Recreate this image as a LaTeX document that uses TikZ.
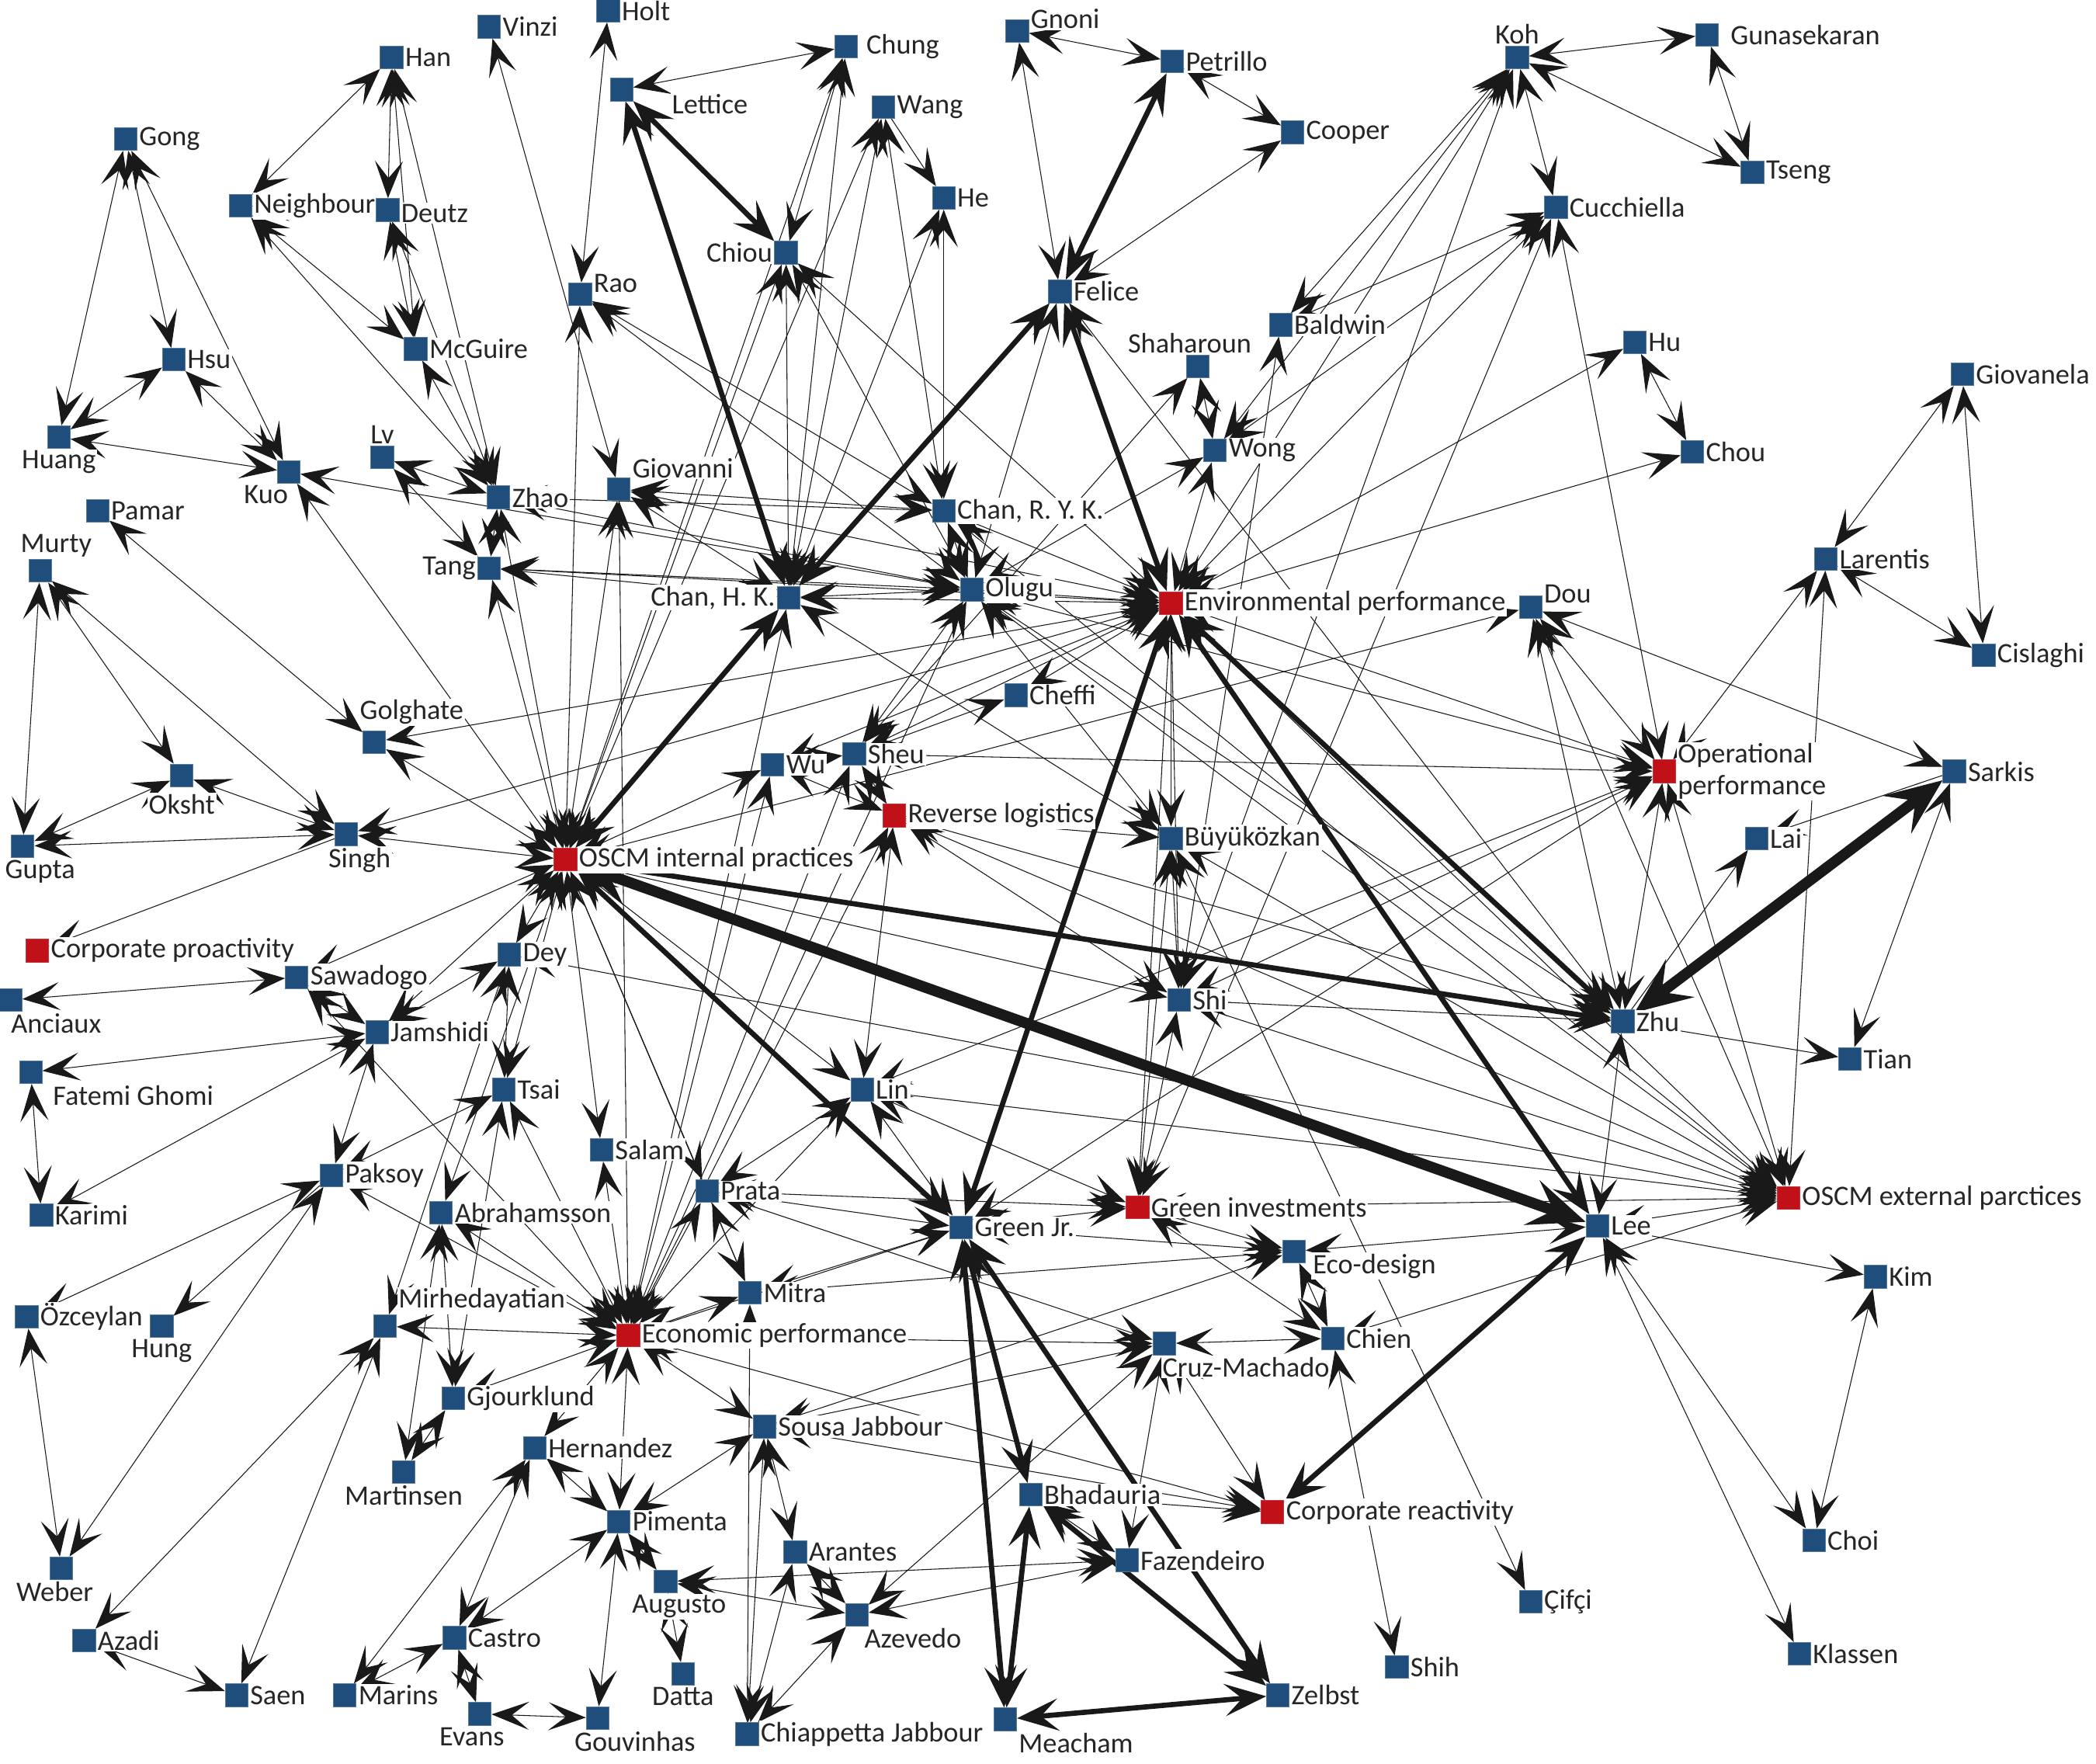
\documentclass[tikz,border=0pt]{standalone}
\usepackage{fontspec}
\setmainfont{Carlito}
\usetikzlibrary{arrows.meta,backgrounds}
\definecolor{authblue}{RGB}{31,78,125}
\definecolor{topicred}{RGB}{192,16,24}

\begin{document}
\begin{tikzpicture}[x=0.02cm, y=-0.02cm, font=\fontsize{12}{13.5}\selectfont,
  >={Stealth[length=0.56cm,width=0.42cm,inset=0.26cm]},
  au/.style={fill=authblue, draw=authblue!75, line width=0.3pt, minimum size=0.34cm, inner sep=0pt},
  topic/.style={au, fill=topicred, draw=topicred!85},
  lbl/.style={fill=white, inner sep=0.6pt, text=black!85},
  ln/.style={line width=0.35pt, draw=black!90},
  bi/.style={ln, <->},
  ed/.style={ln, ->},
  thk/.style={line width=2.2pt, draw=black!90, {Stealth[length=0.62cm,width=0.48cm,inset=0.26cm]}-{Stealth[length=0.62cm,width=0.48cm,inset=0.26cm]}},
  xthk/.style={line width=4.6pt, draw=black!90, {Stealth[length=0.85cm,width=0.7cm,inset=0.34cm]}-{Stealth[length=0.85cm,width=0.7cm,inset=0.34cm]}}]
\useasboundingbox (0,0) rectangle (1568,1319);
% top row
\node[au, label={[lbl]right:Holt}] (holt) at (455,8) {};
\node[au, label={[lbl]right:Vinzi}] (vinzi) at (366,20) {};
\node[au, label={[lbl]right:Han}] (han) at (293,43) {};
\node[au, label={[lbl,yshift=0.18cm]right:Gnoni}] (gnoni) at (761,23) {};
\node[au, label={[lbl]right:Petrillo}] (petrillo) at (877,46) {};
\node[au, label={[lbl]above:Koh}] (koh) at (1135,43) {};
\node[au, label={[lbl,xshift=0.15cm]right:Gunasekaran}] (gunas) at (1277,26) {};
\node[au, label={[lbl,xshift=0.1cm]right:Chung}] (chung) at (633,35) {};
\node[au, label={[lbl,xshift=0.55cm,yshift=-0.22cm]right:Lettice}] (lettice) at (465,67) {};
\node[au, label={[lbl]right:Wang}] (wang) at (661,80) {};
\node[au, label={[lbl]right:Gong}] (gong) at (94,104) {};
\node[au, label={[lbl]right:Neighbour}] (neighbour) at (180,154) {};
\node[au, label={[lbl,yshift=-0.05cm]right:Deutz}] (deutz) at (290,157) {};
\node[au, label={[lbl]right:He}] (he) at (706,148) {};
\node[au, label={[lbl]right:Cooper}] (cooper) at (967,99) {};
\node[au, label={[lbl]right:Tseng}] (tseng) at (1311,129) {};
\node[au, label={[lbl]right:Cucchiella}] (cucchiella) at (1164,155) {};
\node[au, label={[lbl]left:Chiou}] (chiou) at (588,189) {};
\node[au, label={[lbl]right:Felice}] (felice) at (793,218) {};
\node[au, label={[lbl,yshift=0.16cm]right:Rao}] (rao) at (434,220) {};
\node[au, label={[lbl]right:Baldwin}] (baldwin) at (958,243) {};
\node[au, label={[lbl]right:Hu}] (hu) at (1223,256) {};
\node[au, label={[lbl,xshift=-0.12cm]above:Shaharoun}] (shaharoun) at (896,274) {};
\node[au, label={[lbl]right:McGuire}] (mcguire) at (311,261) {};
\node[au, label={[lbl]right:Hsu}] (hsu) at (130,269) {};
\node[au, label={[lbl]right:Giovanela}] (giovanela) at (1468,280) {};
% upper middle
\node[au, label={[lbl]below:Huang}] (huang) at (44,327) {};
\node[au, label={[lbl]right:Wong}] (wong) at (909,337) {};
\node[au, label={[lbl]right:Chou}] (chou) at (1266,338) {};
\node[au, label={[lbl]above:Lv}] (lv) at (286,342) {};
\node[au, label={[lbl,xshift=-0.34cm]below:Kuo}] (kuo) at (216,353) {};
\node[au, label={[lbl,yshift=0.32cm]right:Giovanni}] (giovanni) at (463,366) {};
\node[au, label={[lbl]right:Zhao}] (zhao) at (373,372) {};
\node[au, label={[lbl]right:{Chan, R. Y. K.}}] (chanryk) at (706,382) {};
\node[au, label={[lbl]right:Pamar}] (pamar) at (73,382) {};
\node[au, label={[lbl,xshift=0.24cm]above:Murty}] (murty) at (30,427) {};
\node[au, label={[lbl]left:Tang}] (tang) at (366,425) {};
\node[au, label={[lbl]right:Larentis}] (larentis) at (1366,418) {};
\node[au, label={[lbl]right:Olugu}] (olugu) at (727,441) {};
\node[au, label={[lbl]left:{Chan, H. K.}}] (chanhk) at (590,447) {};
\node[topic, label={[lbl]right:Environmental performance}] (envperf) at (876,451) {};
\node[au, label={[lbl,yshift=0.2cm]right:Dou}] (dou) at (1145,454) {};
\node[au, label={[lbl]right:Cislaghi}] (cislaghi) at (1484,490) {};
\node[au, label={[lbl]right:Cheffi}] (cheffi) at (760,520) {};
\node[au, label={[lbl,xshift=0.56cm,yshift=0.06cm]above:Golghate}] (golghate) at (280,555) {};
\node[au, label={[lbl]right:Sheu}] (sheu) at (639,564) {};
\node[au, label={[lbl]right:Wu}] (wu) at (578,572) {};
\node[topic, label={[lbl,align=left]right:{Operational\\performance}}] (opperf) at (1245,577) {};
\node[au, label={[lbl]right:Sarkis}] (sarkis) at (1462,577) {};
\node[au, label={[lbl,yshift=-0.08cm]below:Oksht}] (oksht) at (136,580) {};
\node[topic, label={[lbl]right:Reverse logistics}] (revlog) at (669,610) {};
\node[au, label={[lbl]right:Büyüközkan}] (buyuk) at (876,627) {};
\node[au, label={[lbl]right:Lai}] (lai) at (1314,627) {};
\node[au, label={[lbl,xshift=0.26cm]below:Gupta}] (gupta) at (17,633) {};
\node[au, label={[lbl,xshift=0.2cm]below:Singh}] (singh) at (259,624) {};
\node[topic, label={[lbl]right:OSCM internal practices}] (oscmint) at (423,643) {};
% lower middle
\node[topic, label={[lbl]right:Corporate proactivity}] (corppro) at (28,711) {};
\node[au, label={[lbl]right:Dey}] (dey) at (381,714) {};
\node[au, label={[lbl]right:Sawadogo}] (sawadogo) at (222,731) {};
\node[au, label={[lbl,xshift=0.68cm]below:Anciaux}] (anciaux) at (8,748) {};
\node[au, label={[lbl]right:Shi}] (shi) at (882,748) {};
\node[au, label={[lbl]right:Zhu}] (zhu) at (1214,764) {};
\node[au, label={[lbl]right:Jamshidi}] (jamshidi) at (282,772) {};
\node[au, label={[lbl]right:Tian}] (tian) at (1384,792) {};
\node[au, label={[lbl,xshift=0.13cm]below right:Fatemi Ghomi}] (fatemi) at (23,802) {};
\node[au, label={[lbl]right:Tsai}] (tsai) at (377,815) {};
\node[au, label={[lbl]right:Lin}] (lin) at (645,815) {};
\node[au, label={[lbl]right:Salam}] (salam) at (450,860) {};
\node[au, label={[lbl]right:Paksoy}] (paksoy) at (248,879) {};
\node[au, label={[lbl]right:Prata}] (prata) at (529,891) {};
\node[au, label={[lbl]right:Abrahamsson}] (abrah) at (330,907) {};
\node[au, label={[lbl]right:Karimi}] (karimi) at (31,909) {};
\node[topic, label={[lbl]right:Green investments}] (greeninv) at (851,903) {};
\node[au, label={[lbl]right:Green Jr.}] (greenjr) at (719,918) {};
\node[au, label={[lbl]right:Lee}] (lee) at (1195,917) {};
\node[topic, label={[lbl]right:OSCM external parctices}] (oscmext) at (1338,896) {};
\node[au, label={[lbl,xshift=0.08cm,yshift=-0.22cm]right:Eco-design}] (ecodesign) at (968,936) {};
\node[au, label={[lbl]right:Kim}] (kim) at (1403,955) {};
\node[au, label={[lbl]right:Mitra}] (mitra) at (561,967) {};
\node[au, label={[lbl]above right:Mirhedayatian}] (mirhed) at (288,992) {};
\node[au, label={[lbl]right:Özceylan}] (ozceylan) at (20,985) {};
\node[au, label={[lbl]below:Hung}] (hung) at (121,992) {};
\node[topic, label={[lbl]right:Economic performance}] (econperf) at (470,999) {};
\node[au, label={[lbl]right:Chien}] (chien) at (997,1001) {};
\node[au, label={[lbl,xshift=-0.23cm]below right:Cruz-Machado}] (cruz) at (871,1005) {};
\node[au, label={[lbl]right:Gjourklund}] (gjour) at (339,1046) {};
\node[au, label={[lbl]right:Hernandez}] (hernandez) at (400,1083) {};
\node[au, label={[lbl]below:Martinsen}] (martinsen) at (302,1101) {};
\node[au, label={[lbl]right:Sousa Jabbour}] (sousa) at (572,1067) {};
% bottom rows
\node[au, label={[lbl]right:Bhadauria}] (bhadauria) at (771,1118) {};
\node[topic, label={[lbl]right:Corporate reactivity}] (corpreact) at (952,1131) {};
\node[au, label={[lbl]right:Pimenta}] (pimenta) at (463,1138) {};
\node[au, label={[lbl]right:Choi}] (choi) at (1357,1152) {};
\node[au, label={[lbl]right:Arantes}] (arantes) at (595,1161) {};
\node[au, label={[lbl]right:Fazendeiro}] (fazend) at (843,1167) {};
\node[au, label={[lbl,xshift=-0.1cm]below:Weber}] (weber) at (46,1173) {};
\node[au, label={[lbl,xshift=0.2cm]below:Augusto}] (augusto) at (498,1183) {};
\node[au, label={[lbl]right:Çifçi}] (cifci) at (1145,1198) {};
\node[au, label={[lbl,xshift=-0.09cm]below right:Azevedo}] (azevedo) at (641,1208) {};
\node[au, label={[lbl]right:Azadi}] (azadi) at (63,1227) {};
\node[au, label={[lbl]right:Castro}] (castro) at (340,1225) {};
\node[au, label={[lbl]right:Klassen}] (klassen) at (1346,1237) {};
\node[au, label={[lbl]right:Shih}] (shih) at (1045,1247) {};
\node[au, label={[lbl]below:Datta}] (datta) at (511,1252) {};
\node[au, label={[lbl]right:Saen}] (saen) at (177,1268) {};
\node[au, label={[lbl]right:Marins}] (marins) at (258,1268) {};
\node[au, label={[lbl]right:Zelbst}] (zelbst) at (956,1268) {};
\node[au, label={[lbl,xshift=-0.12cm]below:Evans}] (evans) at (359,1282) {};
\node[au, label={[lbl,xshift=0.56cm]below:Gouvinhas}] (gouvinhas) at (447,1285) {};
\node[au, label={[lbl]right:Chiappetta Jabbour}] (chiapp) at (559,1297) {};
\node[au, label={[lbl]below right:Meacham}] (meacham) at (752,1286) {};
\begin{scope}[on background layer]
\fill[white] (0,0) rectangle (1568,1319);
% heavy links
\foreach \a/\b in {oscmint/lee, sarkis/zhu} {\draw[xthk] (\a) -- (\b);}
\foreach \a/\b in {lettice/chanhk, lettice/chiou, chanhk/felice, oscmint/chanhk, petrillo/felice, felice/envperf,
  envperf/zhu, envperf/lee, envperf/greenjr, oscmint/greenjr, oscmint/zhu, greenjr/bhadauria, greenjr/meacham,
  greenjr/zelbst, bhadauria/meacham, bhadauria/zelbst, meacham/zelbst, lee/corpreact} {\draw[thk] (\a) -- (\b);}
% one-way links
\foreach \a/\b in {sarkis/lai, zhu/lai, zhu/tian, lee/kim, singh/corppro, paksoy/hung, deutz/neighbour, wang/he} {\draw[ed] (\a) -- (\b);}
% top-left group
\foreach \a/\b in {gong/huang, gong/hsu, gong/kuo, hsu/huang, hsu/kuo, huang/kuo, han/neighbour, han/deutz, han/mcguire,
  han/zhao, neighbour/mcguire, neighbour/zhao, deutz/mcguire, deutz/zhao, mcguire/zhao, lv/zhao, lv/tang, zhao/tang,
  vinzi/giovanni, holt/rao, lettice/chung, chung/chiou, chung/chanhk, wang/chanhk, wang/chanryk, he/chanryk, he/chanhk,
  chiou/chanhk, chiou/olugu, chiou/envperf, pamar/golghate, murty/gupta, murty/oksht, murty/singh, oksht/gupta,
  oksht/singh, gupta/singh} {\draw[bi] (\a) -- (\b);}
% top-right group
\foreach \a/\b in {gnoni/petrillo, gnoni/felice, petrillo/cooper, cooper/felice, felice/olugu, felice/zhu,
  shaharoun/wong, olugu/wong, sheu/shaharoun, wong/envperf, wong/koh, baldwin/shi, baldwin/koh, baldwin/cucchiella,
  koh/gunas, koh/tseng, gunas/tseng, koh/cucchiella, koh/envperf, koh/shi, cucchiella/wong, cucchiella/envperf,
  cucchiella/greeninv, cucchiella/opperf, envperf/hu, envperf/chou, hu/chou, giovanela/larentis, giovanela/cislaghi,
  larentis/cislaghi, larentis/opperf, larentis/oscmext, dou/sarkis, dou/zhu, dou/oscmext, dou/opperf, oscmint/dou,
  sheu/opperf, envperf/opperf, olugu/opperf, shi/opperf, lin/opperf, greenjr/opperf, zhu/opperf, opperf/oscmext,
  sarkis/tian, zhu/lee, kim/choi, lee/choi, lee/klassen, lee/oscmext, lee/ecodesign, chien/oscmext} {\draw[bi] (\a) -- (\b);}
% left and bottom-left group
\foreach \a/\b in {envperf/singh, oscmint/singh, oscmint/golghate, envperf/golghate, oscmint/kuo, oscmint/sawadogo,
  sawadogo/anciaux, sawadogo/jamshidi, sawadogo/econperf, dey/jamshidi, oscmint/jamshidi, jamshidi/fatemi,
  jamshidi/karimi, jamshidi/paksoy, fatemi/karimi, oscmint/dey, dey/oscmext, dey/tsai, oscmint/tsai, paksoy/tsai,
  econperf/tsai, oscmint/salam, econperf/salam, ozceylan/paksoy, paksoy/weber, paksoy/econperf, weber/ozceylan,
  azadi/mirhed, saen/mirhed, azadi/saen, econperf/mirhed, dey/mirhed, abrah/martinsen, abrah/gjour, econperf/abrah,
  oscmint/abrah, gjour/martinsen, econperf/gjour, tsai/gjour, econperf/hernandez, hernandez/castro, hernandez/marins,
  castro/marins, castro/evans, evans/gouvinhas, gouvinhas/pimenta, castro/pimenta, econperf/pimenta,
  hernandez/pimenta, sousa/pimenta, pimenta/augusto, augusto/datta, augusto/azevedo, augusto/fazend} {\draw[bi] (\a) -- (\b);}
% bottom-middle group
\foreach \a/\b in {arantes/sousa, arantes/azevedo, chiapp/arantes, chiapp/azevedo, sousa/chiapp, mitra/chiapp,
  azevedo/fazend, azevedo/cruz, sousa/cruz, econperf/sousa, sousa/corpreact, mitra/ecodesign, oscmint/mitra,
  econperf/mitra, prata/mitra, oscmint/prata, econperf/prata, prata/greeninv, prata/cruz, lin/prata, econperf/cruz,
  cruz/chien, cruz/fazend, cruz/corpreact, bhadauria/fazend, bhadauria/corpreact, econperf/corpreact,
  greenjr/greeninv, lin/greeninv, greeninv/chien, greeninv/ecodesign, ecodesign/chien, chien/shih, greeninv/oscmext,
  sousa/ecodesign, greenjr/ecodesign, oscmint/lin, revlog/lin, econperf/lin, lin/greenjr, lin/oscmext, mitra/greenjr,
  econperf/greenjr, prata/greenjr} {\draw[bi] (\a) -- (\b);}
% centre group
\foreach \a/\b in {revlog/buyuk, revlog/shi, revlog/zhu, revlog/oscmext, wu/revlog, sheu/revlog, wu/sheu,
  oscmint/wu, envperf/wu, envperf/sheu, olugu/sheu, sheu/cheffi, cheffi/envperf, econperf/revlog, econperf/sheu,
  econperf/wu, envperf/buyuk, envperf/shi, envperf/greeninv, buyuk/greeninv, shi/greeninv, buyuk/shi, oscmint/shi,
  buyuk/cifci, chanhk/buyuk, shi/oscmext, buyuk/oscmext, shi/zhu, chanryk/olugu, chanhk/olugu, chanryk/envperf,
  olugu/envperf, chanhk/envperf, chanryk/oscmext, olugu/oscmext, olugu/zhu, olugu/buyuk, envperf/oscmext,
  giovanni/oscmint, rao/oscmint, giovanni/chanryk, rao/chanryk, giovanni/envperf, rao/olugu, tang/olugu,
  oscmint/tang, zhao/oscmint, zhao/chanryk, zhao/olugu, kuo/olugu, chanhk/giovanni, chanhk/tang, tang/envperf,
  oscmint/chung, oscmint/wang, oscmint/chiou, econperf/chanhk, econperf/olugu, econperf/giovanni} {\draw[bi] (\a) -- (\b);}
\end{scope}
\end{tikzpicture}
\end{document}
